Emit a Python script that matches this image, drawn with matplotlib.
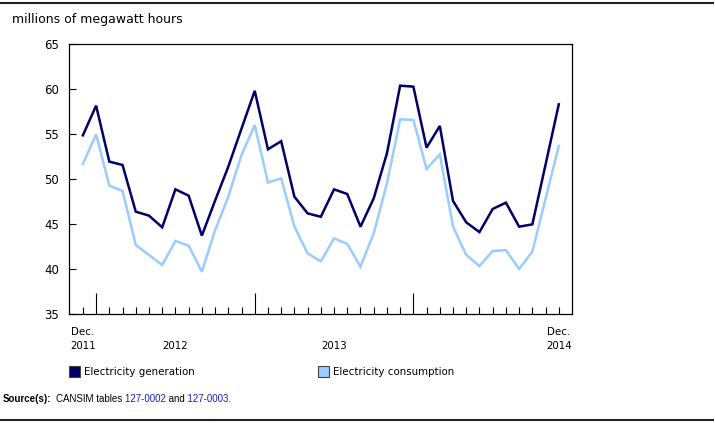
import numpy as np
import pandas as pd
import matplotlib
matplotlib.use("Agg")
import matplotlib.pyplot as plt
from matplotlib.patches import Rectangle
from matplotlib.lines import Line2D
from matplotlib.transforms import Bbox

# monthly data, Dec 2011 - Dec 2014 (millions of MWh)
months = pd.period_range("2011-12", "2014-12", freq="M")
generation = [54.85, 58.15, 51.93, 51.56, 46.37, 45.93, 44.63, 48.85, 48.15, 43.7,
              47.6, 51.37, 55.6, 59.8, 53.3, 54.2, 48.04, 46.18, 45.8, 48.85,
              48.33, 44.7, 47.85, 52.85, 60.37, 60.26, 53.48, 55.9, 47.56, 45.18,
              44.1, 46.67, 47.37, 44.7, 44.96, 51.6, 58.3]
consumption = [51.67, 54.96, 49.26, 48.67, 42.67, 41.56, 40.44, 43.11, 42.59, 39.7,
               44.3, 48.04, 52.67, 56.0, 49.6, 50.07, 44.7, 41.74, 40.85, 43.4,
               42.78, 40.26, 43.96, 49.5, 56.63, 56.56, 51.11, 52.74, 44.7, 41.56,
               40.33, 42.0, 42.1, 40.0, 41.93, 47.8, 53.67]
series_names = ["Electricity generation", "Electricity consumption"]
colors = ["#000066", "#99ccff"]

# x axis labels (month index, text)
xlabel_pos = [0, 7, 19, 36]
xlabel_txt = ["Dec.\n2011", "\n2012", "\n2013", "Dec.\n2014"]

W, H = 715, 423
fig = plt.figure(figsize=(W / 100, H / 100), dpi=100)
plt.rcParams['font.family'] = ['DejaVu Sans']

def fx(px):
    return px / W

def fy(py):
    return 1 - py / H

ax = fig.add_axes([fx(69), fy(314), fx(572) - fx(69), fy(44) - fy(314)])
x = np.arange(len(months))
ax.plot(x, generation, color=colors[0], lw=1.8, solid_joinstyle="miter")
ax.plot(x, consumption, color=colors[1], lw=1.8, solid_joinstyle="miter")

ax.set_xlim(-1.05, 37.0)
ax.set_ylim(35, 65)
ax.set_yticks(np.arange(35, 66, 5))
ax.tick_params(axis="y", direction="in", length=5, width=0.8, labelsize=8.5, pad=7)
for s in ax.spines.values():
    s.set_linewidth(0.9)

major = [i for i, m in enumerate(months) if m.month == 1]
minor = [i for i, m in enumerate(months) if m.month != 1]
ax.set_xticks(major)
ax.set_xticks(minor, minor=True)
ax.tick_params(axis="x", which="major", direction="in", length=15, width=0.8, labelbottom=False)
ax.tick_params(axis="x", which="minor", direction="in", length=5, width=0.8)

# each label has two lines, drawn at fixed heights below the axis
xt = ax.get_xaxis_transform()
for p, t in zip(xlabel_pos, xlabel_txt):
    for line, py in zip(t.split("\n"), [332, 346]):
        if line:
            yy = (fy(py) - fy(314)) / (fy(44) - fy(314))
            ax.text(p, yy, line, transform=xt, ha="center", va="center", fontsize=7.4)

fig.text(fx(12), fy(19), "millions of megawatt hours", fontsize=9, va="center", ha="left")

# legend
for lx, col, name in zip([69, 318], colors, series_names):
    fig.patches.append(Rectangle((fx(lx), fy(377)), fx(11), fy(366) - fy(377),
                                 transform=fig.transFigure, facecolor=col,
                                 edgecolor="#444444", lw=0.8))
    fig.text(fx(lx + 15), fy(371.5), name, fontsize=7.4, va="center", ha="left")

# rules
fig.add_artist(Line2D([0, fx(713)], [fy(3), fy(3)], color="#222222", lw=1.5))
fig.add_artist(Line2D([0, fx(713)], [fy(420), fy(420)], color="#222222", lw=1.5))

# source line: bold lead, then one plain string; the table numbers are
# coloured by drawing the string again clipped to their spans
lead = "Source(s):"
body = "CANSIM tables 127-0002 and 127-0003."
blue_parts = ["127-0002", "127-0003"]
src_kw = dict(fontsize=7, family="Liberation Sans", va="center", ha="left")

fig.canvas.draw()
r = fig.canvas.get_renderer()

def ink_w(s, **kw):
    t = fig.text(0, 0, s, **src_kw, **kw)
    w = t.get_window_extent(renderer=r).width
    t.remove()
    return w

x_lead = 3
fig.text(fx(x_lead), fy(399), lead, fontweight="bold", **src_kw)
x_body = x_lead + ink_w(lead, fontweight="bold") + 4

# spans in pixels: [start, end) per colour
edges = [x_body - 2]
cols = []
pos = 0
for bp in blue_parts:
    i = body.index(bp, pos)
    start = x_body + ink_w(body[:i].rstrip()) + 1.2
    end = x_body + ink_w(body[:i + len(bp)]) + 0.6
    edges += [start, end]
    cols += ["black", "#1a1acc"]
    pos = i + len(bp)
edges.append(W)
cols.append("black")

for (a, b), col in zip(zip(edges[:-1], edges[1:]), cols):
    t = fig.text(fx(x_body), fy(399), body, color=col, **src_kw)
    t.set_clip_box(Bbox.from_extents(a, 0, b, H))

fig.savefig("out.png", dpi=100)
